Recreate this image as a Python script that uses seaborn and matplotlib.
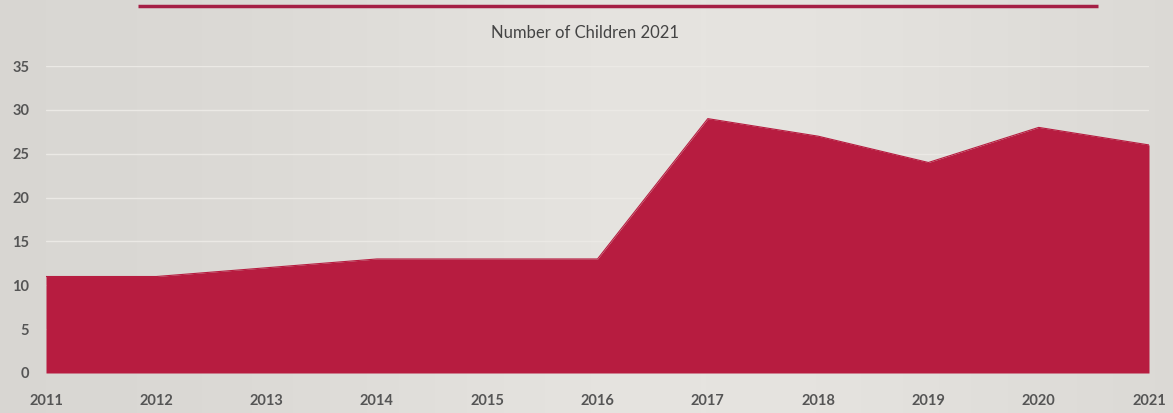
import numpy as np
import pandas as pd
import matplotlib
matplotlib.use("Agg")
import matplotlib.pyplot as plt
import seaborn as sns

years = [2011, 2012, 2013, 2014, 2015, 2016, 2017, 2018, 2019, 2020, 2021]
children = [11, 11, 12, 13, 13, 13, 29, 27, 24, 28, 26]
y_ticks = [0, 5, 10, 15, 20, 25, 30, 35]
title = "Number of Children 2021"

df = pd.DataFrame({"year": years, "children": children})

sns.set_theme(style="white")
plt.rcParams["font.family"] = ["Lato", "DejaVu Sans"]

fig = plt.figure(figsize=(11.73, 4.13), dpi=100)
fig.patch.set_facecolor("#dcdad6")

# subtle background gradient
bg = fig.add_axes([0, 0, 1, 1], zorder=-10)
grad = np.linspace(0, 1, 256)
xx = np.tile(grad, (64, 1))
light = np.exp(-((xx - 0.6) ** 2) / 0.12)
img = np.zeros((64, 256, 3))
base = np.array([0xd8, 0xd6, 0xd2]) / 255
hi = np.array([0xe6, 0xe4, 0xe0]) / 255
for c in range(3):
    img[:, :, c] = base[c] + (hi[c] - base[c]) * light
bg.imshow(img, aspect="auto", extent=[0, 1, 0, 1])
bg.axis("off")

# top decorative line
fig.add_artist(plt.Line2D([138 / 1173, 1098 / 1173], [1 - 6 / 413, 1 - 6 / 413],
                          color="#a51f45", lw=2.5, solid_capstyle="butt"))

ax = fig.add_axes([46 / 1173, 1 - 373 / 413, (1149 - 46) / 1173, (373 - 66) / 413])
ax.set_facecolor("none")

red = "#b71c40"
sns.lineplot(data=df, x="year", y="children", ax=ax, color=red, lw=0.8, zorder=3)
ax.fill_between(df["year"], df["children"], 0, color=red, lw=0, zorder=3)

ax.set_xlim(2011, 2021)
ax.set_ylim(0, 35)
ax.set_yticks(y_ticks)
ax.set_xticks(years)
ax.set_xticklabels([str(y) for y in years])
for yv in y_ticks[1:]:
    ax.axhline(yv, color="#ebe9e5", lw=1, zorder=1)
ax.set_xlabel("")
ax.set_ylabel("")
for s in ax.spines.values():
    s.set_visible(False)
ax.tick_params(axis="both", length=0, labelsize=10.5, labelcolor="#555555")
ax.tick_params(axis="y", pad=12)
ax.tick_params(axis="x", pad=15)
for lab in ax.get_xticklabels() + ax.get_yticklabels():
    lab.set_fontweight("bold")

fig.text(585 / 1173, 1 - 33 / 413, title, ha="center", va="center",
         fontsize=12, color="#444444")

fig.savefig("out.png", dpi=100, facecolor=fig.get_facecolor())
